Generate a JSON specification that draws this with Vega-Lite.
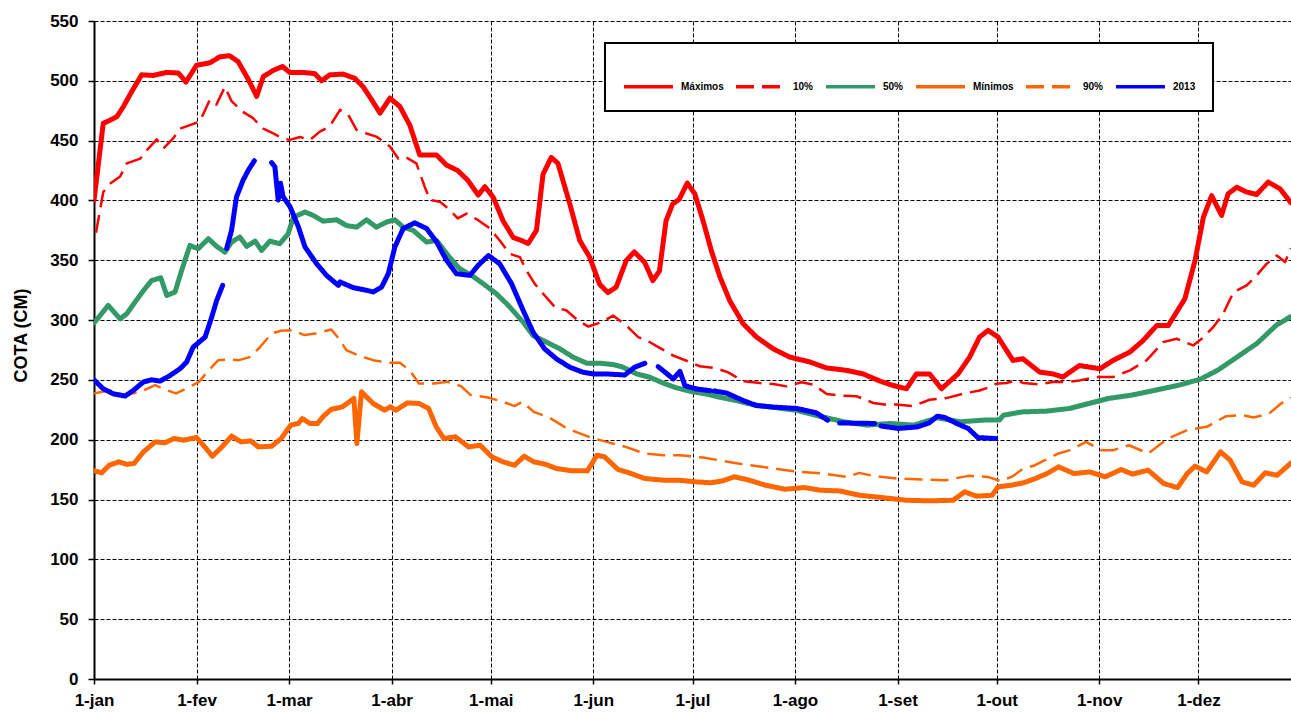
{
"$schema": "https://vega.github.io/schema/vega-lite/v6.json",
"width": 1197, "height": 658,
"autosize": {"type": "none"},
"padding": {"left": 94, "top": 21, "right": 0, "bottom": 33},
"background": "white",
"config": {
 "view": {"stroke": null},
 "axis": {"domainColor": "black", "domainWidth": 2, "tickColor": "black", "tickWidth": 1.5, "labelFont": "Liberation Sans", "labelFontWeight": "bold", "labelFontSize": 17, "labelColor": "black", "grid": true, "gridColor": "black", "gridDash": [4, 2], "gridWidth": 1, "gridOpacity": 1, "titleFont": "Liberation Sans", "titleColor": "black"}
},
"datasets": {
"rows": [
{"s":"Máximos","g":0,"d":0,"v":400},{"s":"Máximos","g":0,"d":2.8,"v":464.5},{"s":"Máximos","g":0,"d":4.8,"v":467},{"s":"Máximos","g":0,"d":6.9,"v":470},{"s":"Máximos","g":0,"d":8.9,"v":478.5},{"s":"Máximos","g":0,"d":11.4,"v":491},{"s":"Máximos","g":0,"d":12.9,"v":498},{"s":"Máximos","g":0,"d":14.4,"v":505},{"s":"Máximos","g":0,"d":17.9,"v":504.5},{"s":"Máximos","g":0,"d":22,"v":507},{"s":"Máximos","g":0,"d":25.5,"v":506.5},{"s":"Máximos","g":0,"d":27.8,"v":499},{"s":"Máximos","g":0,"d":31,"v":513},{"s":"Máximos","g":0,"d":35,"v":515},{"s":"Máximos","g":0,"d":38,"v":520},{"s":"Máximos","g":0,"d":41,"v":521},{"s":"Máximos","g":0,"d":43.6,"v":516},{"s":"Máximos","g":0,"d":46.7,"v":501},{"s":"Máximos","g":0,"d":49.2,"v":487},{"s":"Máximos","g":0,"d":51.2,"v":503.6},{"s":"Máximos","g":0,"d":54.2,"v":508.7},{"s":"Máximos","g":0,"d":57,"v":512},{"s":"Máximos","g":0,"d":59.2,"v":507},{"s":"Máximos","g":0,"d":63.3,"v":507},{"s":"Máximos","g":0,"d":66.8,"v":506},{"s":"Máximos","g":0,"d":68.8,"v":500},{"s":"Máximos","g":0,"d":71.3,"v":505},{"s":"Máximos","g":0,"d":75.4,"v":505.6},{"s":"Máximos","g":0,"d":78.9,"v":502},{"s":"Máximos","g":0,"d":81.4,"v":495},{"s":"Máximos","g":0,"d":84,"v":484},{"s":"Máximos","g":0,"d":86.5,"v":473},{"s":"Máximos","g":0,"d":89.5,"v":485.5},{"s":"Máximos","g":0,"d":92.5,"v":478.5},{"s":"Máximos","g":0,"d":95.5,"v":463},{"s":"Máximos","g":0,"d":98.5,"v":438},{"s":"Máximos","g":0,"d":103.6,"v":438},{"s":"Máximos","g":0,"d":106.6,"v":429.6},{"s":"Máximos","g":0,"d":110,"v":425},{"s":"Máximos","g":0,"d":113,"v":417},{"s":"Máximos","g":0,"d":116.2,"v":404.5},{"s":"Máximos","g":0,"d":118.2,"v":411.5},{"s":"Máximos","g":0,"d":120.7,"v":402.8},{"s":"Máximos","g":0,"d":123.7,"v":383},{"s":"Máximos","g":0,"d":126.8,"v":369},{"s":"Máximos","g":0,"d":129.3,"v":366.5},{"s":"Máximos","g":0,"d":131.3,"v":364},{"s":"Máximos","g":0,"d":133.8,"v":375},{"s":"Máximos","g":0,"d":135.8,"v":422},{"s":"Máximos","g":0,"d":138.3,"v":436},{"s":"Máximos","g":0,"d":140.3,"v":431},{"s":"Máximos","g":0,"d":143.9,"v":397},{"s":"Máximos","g":0,"d":146.9,"v":366.5},{"s":"Máximos","g":0,"d":149.9,"v":352.6},{"s":"Máximos","g":0,"d":152.9,"v":330},{"s":"Máximos","g":0,"d":155.4,"v":323},{"s":"Máximos","g":0,"d":157.9,"v":327.5},{"s":"Máximos","g":0,"d":161,"v":350},{"s":"Máximos","g":0,"d":163.4,"v":357},{"s":"Máximos","g":0,"d":166.5,"v":348.4},{"s":"Máximos","g":0,"d":169,"v":333},{"s":"Máximos","g":0,"d":171,"v":341},{"s":"Máximos","g":0,"d":173,"v":383},{"s":"Máximos","g":0,"d":175,"v":397},{"s":"Máximos","g":0,"d":177,"v":401},{"s":"Máximos","g":0,"d":179.4,"v":414.5},{"s":"Máximos","g":0,"d":181.7,"v":405.6},{"s":"Máximos","g":0,"d":184.2,"v":383},{"s":"Máximos","g":0,"d":186.7,"v":358},{"s":"Máximos","g":0,"d":189.3,"v":336},{"s":"Máximos","g":0,"d":192.3,"v":316},{"s":"Máximos","g":0,"d":196.3,"v":297},{"s":"Máximos","g":0,"d":200.4,"v":285.7},{"s":"Máximos","g":0,"d":205.4,"v":276},{"s":"Máximos","g":0,"d":210.4,"v":269},{"s":"Máximos","g":0,"d":216.5,"v":265},{"s":"Máximos","g":0,"d":221.5,"v":260},{"s":"Máximos","g":0,"d":227.5,"v":258},{"s":"Máximos","g":0,"d":232.6,"v":255},{"s":"Máximos","g":0,"d":237.7,"v":249},{"s":"Máximos","g":0,"d":241.6,"v":245.4},{"s":"Máximos","g":0,"d":245.7,"v":242.6},{"s":"Máximos","g":0,"d":248.7,"v":255},{"s":"Máximos","g":0,"d":252.7,"v":255},{"s":"Máximos","g":0,"d":256.3,"v":242.6},{"s":"Máximos","g":0,"d":261.3,"v":255},{"s":"Máximos","g":0,"d":264.8,"v":269},{"s":"Máximos","g":0,"d":267.8,"v":285.8},{"s":"Máximos","g":0,"d":270.4,"v":291.4},{"s":"Máximos","g":0,"d":273.4,"v":285.8},{"s":"Máximos","g":0,"d":277.9,"v":266.3},{"s":"Máximos","g":0,"d":280.9,"v":267.7},{"s":"Máximos","g":0,"d":286,"v":256.5},{"s":"Máximos","g":0,"d":290,"v":255},{"s":"Máximos","g":0,"d":293,"v":252.4},{"s":"Máximos","g":0,"d":298,"v":262},{"s":"Máximos","g":0,"d":304.2,"v":259.3},{"s":"Máximos","g":0,"d":308.2,"v":266.3},{"s":"Máximos","g":0,"d":313.3,"v":273.3},{"s":"Máximos","g":0,"d":317.3,"v":283},{"s":"Máximos","g":0,"d":321.4,"v":295.5},{"s":"Máximos","g":0,"d":324.9,"v":295.5},{"s":"Máximos","g":0,"d":329.9,"v":317.8},{"s":"Máximos","g":0,"d":333,"v":350},{"s":"Máximos","g":0,"d":335.5,"v":386},{"s":"Máximos","g":0,"d":338,"v":404},{"s":"Máximos","g":0,"d":341,"v":387.5},{"s":"Máximos","g":0,"d":343,"v":405.6},{"s":"Máximos","g":0,"d":345.6,"v":411},{"s":"Máximos","g":0,"d":348.6,"v":407},{"s":"Máximos","g":0,"d":351.6,"v":405},{"s":"Máximos","g":0,"d":355.1,"v":415.3},{"s":"Máximos","g":0,"d":358.7,"v":409.7},{"s":"Máximos","g":0,"d":362,"v":398},
{"s":"10%","g":0,"d":0.6,"v":373},{"s":"10%","g":0,"d":2.8,"v":407},{"s":"10%","g":0,"d":4.8,"v":414},{"s":"10%","g":0,"d":7.9,"v":420},{"s":"10%","g":0,"d":9.9,"v":431},{"s":"10%","g":0,"d":14,"v":435},{"s":"10%","g":0,"d":16,"v":442},{"s":"10%","g":0,"d":19,"v":451},{"s":"10%","g":0,"d":21,"v":443.6},{"s":"10%","g":0,"d":24,"v":452},{"s":"10%","g":0,"d":26,"v":460},{"s":"10%","g":0,"d":29,"v":463},{"s":"10%","g":0,"d":32,"v":466},{"s":"10%","g":0,"d":35,"v":484},{"s":"10%","g":0,"d":37,"v":480},{"s":"10%","g":0,"d":39.6,"v":495},{"s":"10%","g":0,"d":41.6,"v":483},{"s":"10%","g":0,"d":45,"v":474},{"s":"10%","g":0,"d":48,"v":469},{"s":"10%","g":0,"d":51.2,"v":460},{"s":"10%","g":0,"d":54.2,"v":456},{"s":"10%","g":0,"d":57,"v":452},{"s":"10%","g":0,"d":59.2,"v":450.6},{"s":"10%","g":0,"d":62.3,"v":453},{"s":"10%","g":0,"d":65.3,"v":450.6},{"s":"10%","g":0,"d":68.3,"v":457.5},{"s":"10%","g":0,"d":71.3,"v":462},{"s":"10%","g":0,"d":74.4,"v":475.7},{"s":"10%","g":0,"d":76.9,"v":471.5},{"s":"10%","g":0,"d":79.4,"v":459},{"s":"10%","g":0,"d":82.4,"v":456},{"s":"10%","g":0,"d":85.4,"v":453.4},{"s":"10%","g":0,"d":89.5,"v":445},{"s":"10%","g":0,"d":92,"v":435},{"s":"10%","g":0,"d":94,"v":436.6},{"s":"10%","g":0,"d":97.5,"v":431},{"s":"10%","g":0,"d":100,"v":411.5},{"s":"10%","g":0,"d":101.6,"v":400.5},{"s":"10%","g":0,"d":104.6,"v":399},{"s":"10%","g":0,"d":107.6,"v":392},{"s":"10%","g":0,"d":110,"v":385},{"s":"10%","g":0,"d":112.7,"v":389},{"s":"10%","g":0,"d":116.2,"v":383.5},{"s":"10%","g":0,"d":119.7,"v":376.6},{"s":"10%","g":0,"d":122.7,"v":366.5},{"s":"10%","g":0,"d":125.7,"v":355.4},{"s":"10%","g":0,"d":128.8,"v":352.6},{"s":"10%","g":0,"d":130.8,"v":341.4},{"s":"10%","g":0,"d":133.3,"v":330.3},{"s":"10%","g":0,"d":136.3,"v":320.5},{"s":"10%","g":0,"d":139.4,"v":310.8},{"s":"10%","g":0,"d":142.9,"v":308},{"s":"10%","g":0,"d":146.4,"v":299.6},{"s":"10%","g":0,"d":149.5,"v":294.6},{"s":"10%","g":0,"d":153.5,"v":298.2},{"s":"10%","g":0,"d":157,"v":303.8},{"s":"10%","g":0,"d":161,"v":295.4},{"s":"10%","g":0,"d":164.6,"v":285.7},{"s":"10%","g":0,"d":168.1,"v":281.5},{"s":"10%","g":0,"d":171.6,"v":276},{"s":"10%","g":0,"d":175.2,"v":270.3},{"s":"10%","g":0,"d":179.2,"v":266},{"s":"10%","g":0,"d":183.2,"v":261.4},{"s":"10%","g":0,"d":187.8,"v":260},{"s":"10%","g":0,"d":191.8,"v":256.3},{"s":"10%","g":0,"d":196.4,"v":248.8},{"s":"10%","g":0,"d":201.4,"v":247.4},{"s":"10%","g":0,"d":205.4,"v":246.6},{"s":"10%","g":0,"d":209.5,"v":244.6},{"s":"10%","g":0,"d":214,"v":248},{"s":"10%","g":0,"d":217.6,"v":246},{"s":"10%","g":0,"d":221.6,"v":238.3},{"s":"10%","g":0,"d":225.7,"v":236.9},{"s":"10%","g":0,"d":230.7,"v":236.3},{"s":"10%","g":0,"d":235.7,"v":230.7},{"s":"10%","g":0,"d":240.3,"v":229},{"s":"10%","g":0,"d":242.6,"v":229.5},{"s":"10%","g":0,"d":247.7,"v":228.1},{"s":"10%","g":0,"d":252.7,"v":233.4},{"s":"10%","g":0,"d":257.8,"v":234.8},{"s":"10%","g":0,"d":262.8,"v":238.4},{"s":"10%","g":0,"d":267.8,"v":241.2},{"s":"10%","g":0,"d":270.9,"v":244},{"s":"10%","g":0,"d":272.9,"v":246.8},{"s":"10%","g":0,"d":275.9,"v":247.4},{"s":"10%","g":0,"d":279,"v":249.6},{"s":"10%","g":0,"d":281,"v":247.4},{"s":"10%","g":0,"d":286,"v":246.3},{"s":"10%","g":0,"d":290,"v":248.2},{"s":"10%","g":0,"d":294.1,"v":248.2},{"s":"10%","g":0,"d":298.1,"v":249.6},{"s":"10%","g":0,"d":303.2,"v":252.4},{"s":"10%","g":0,"d":308.2,"v":252.4},{"s":"10%","g":0,"d":313.3,"v":258},{"s":"10%","g":0,"d":318.3,"v":266.3},{"s":"10%","g":0,"d":323.3,"v":281.6},{"s":"10%","g":0,"d":327.4,"v":284.4},{"s":"10%","g":0,"d":332.4,"v":278.8},{"s":"10%","g":0,"d":335,"v":284.4},{"s":"10%","g":0,"d":338.5,"v":294.2},{"s":"10%","g":0,"d":341.5,"v":305.3},{"s":"10%","g":0,"d":344.6,"v":323.4},{"s":"10%","g":0,"d":348.6,"v":329},{"s":"10%","g":0,"d":351.6,"v":337.3},{"s":"10%","g":0,"d":354.6,"v":347},{"s":"10%","g":0,"d":357.7,"v":354},{"s":"10%","g":0,"d":360.2,"v":348.5},{"s":"10%","g":0,"d":362,"v":360},
{"s":"50%","g":0,"d":0,"v":297.5},{"s":"50%","g":0,"d":4.3,"v":312.3},{"s":"50%","g":0,"d":7.9,"v":301},{"s":"50%","g":0,"d":9.9,"v":305.3},{"s":"50%","g":0,"d":12.4,"v":315},{"s":"50%","g":0,"d":15,"v":324.8},{"s":"50%","g":0,"d":17.4,"v":333},{"s":"50%","g":0,"d":20.2,"v":335.4},{"s":"50%","g":0,"d":22,"v":320.6},{"s":"50%","g":0,"d":24.5,"v":323.4},{"s":"50%","g":0,"d":26.5,"v":341.5},{"s":"50%","g":0,"d":29,"v":362.4},{"s":"50%","g":0,"d":31.5,"v":359.6},{"s":"50%","g":0,"d":34.6,"v":368},{"s":"50%","g":0,"d":37.1,"v":361.6},{"s":"50%","g":0,"d":39.6,"v":356.8},{"s":"50%","g":0,"d":41.6,"v":365.2},{"s":"50%","g":0,"d":44.1,"v":369.4},{"s":"50%","g":0,"d":46.2,"v":361.6},{"s":"50%","g":0,"d":48.7,"v":366},{"s":"50%","g":0,"d":50.7,"v":358.2},{"s":"50%","g":0,"d":53.2,"v":366},{"s":"50%","g":0,"d":56.2,"v":363.8},{"s":"50%","g":0,"d":58.7,"v":372.1},{"s":"50%","g":0,"d":60.3,"v":386},{"s":"50%","g":0,"d":63.8,"v":390.3},{"s":"50%","g":0,"d":66.3,"v":387.5},{"s":"50%","g":0,"d":69.3,"v":382.7},{"s":"50%","g":0,"d":73.4,"v":383.8},{"s":"50%","g":0,"d":76.4,"v":379},{"s":"50%","g":0,"d":79.4,"v":377.7},{"s":"50%","g":0,"d":82.4,"v":383.8},{"s":"50%","g":0,"d":85.4,"v":377.7},{"s":"50%","g":0,"d":88.5,"v":381.9},{"s":"50%","g":0,"d":91,"v":383.8},{"s":"50%","g":0,"d":93.5,"v":377.7},{"s":"50%","g":0,"d":96.5,"v":375},{"s":"50%","g":0,"d":100.6,"v":365.2},{"s":"50%","g":0,"d":103.6,"v":366.6},{"s":"50%","g":0,"d":107.1,"v":354},{"s":"50%","g":0,"d":110.6,"v":342.9},{"s":"50%","g":0,"d":114.2,"v":337.3},{"s":"50%","g":0,"d":117.7,"v":330.4},{"s":"50%","g":0,"d":121.7,"v":322},{"s":"50%","g":0,"d":125.3,"v":312.3},{"s":"50%","g":0,"d":129.8,"v":298.2},{"s":"50%","g":0,"d":132.8,"v":287},{"s":"50%","g":0,"d":136.9,"v":281.5},{"s":"50%","g":0,"d":140.9,"v":276},{"s":"50%","g":0,"d":144.9,"v":269},{"s":"50%","g":0,"d":149,"v":264},{"s":"50%","g":0,"d":153,"v":264},{"s":"50%","g":0,"d":157,"v":262.8},{"s":"50%","g":0,"d":160,"v":260.6},{"s":"50%","g":0,"d":164.1,"v":255},{"s":"50%","g":0,"d":168.1,"v":252.2},{"s":"50%","g":0,"d":172.1,"v":247.4},{"s":"50%","g":0,"d":176.2,"v":243.3},{"s":"50%","g":0,"d":180.2,"v":240.5},{"s":"50%","g":0,"d":185.2,"v":238.2},{"s":"50%","g":0,"d":189.3,"v":235.5},{"s":"50%","g":0,"d":194.3,"v":232.7},{"s":"50%","g":0,"d":199.3,"v":229.3},{"s":"50%","g":0,"d":205.4,"v":227.1},{"s":"50%","g":0,"d":212.5,"v":224.5},{"s":"50%","g":0,"d":219.6,"v":219.5},{"s":"50%","g":0,"d":226.7,"v":215},{"s":"50%","g":0,"d":233.7,"v":212.2},{"s":"50%","g":0,"d":240.8,"v":213.6},{"s":"50%","g":0,"d":247.9,"v":212.2},{"s":"50%","g":0,"d":255,"v":218.3},{"s":"50%","g":0,"d":262,"v":215},{"s":"50%","g":0,"d":269.1,"v":216.4},{"s":"50%","g":0,"d":273.8,"v":216.4},{"s":"50%","g":0,"d":275,"v":220.5},{"s":"50%","g":0,"d":280.9,"v":223.3},{"s":"50%","g":0,"d":288,"v":223.9},{"s":"50%","g":0,"d":295,"v":226.1},{"s":"50%","g":0,"d":300.9,"v":230.3},{"s":"50%","g":0,"d":306.8,"v":234.5},{"s":"50%","g":0,"d":313.9,"v":237.3},{"s":"50%","g":0,"d":321,"v":241.4},{"s":"50%","g":0,"d":328.1,"v":245.6},{"s":"50%","g":0,"d":334.6,"v":250.6},{"s":"50%","g":0,"d":339.9,"v":258.2},{"s":"50%","g":0,"d":345.8,"v":269.3},{"s":"50%","g":0,"d":351.7,"v":280.5},{"s":"50%","g":0,"d":357.6,"v":295.8},{"s":"50%","g":0,"d":362,"v":303},
{"s":"Mínimos","g":0,"d":0,"v":174},{"s":"Mínimos","g":0,"d":2.3,"v":172.3},{"s":"Mínimos","g":0,"d":4.6,"v":178.7},{"s":"Mínimos","g":0,"d":7.5,"v":181.5},{"s":"Mínimos","g":0,"d":9.8,"v":179.5},{"s":"Mínimos","g":0,"d":12.1,"v":180.1},{"s":"Mínimos","g":0,"d":15,"v":190},{"s":"Mínimos","g":0,"d":18.5,"v":198.2},{"s":"Mínimos","g":0,"d":21.4,"v":197.4},{"s":"Mínimos","g":0,"d":24.2,"v":201},{"s":"Mínimos","g":0,"d":27.1,"v":199.6},{"s":"Mínimos","g":0,"d":31,"v":201.8},{"s":"Mínimos","g":0,"d":33.5,"v":194},{"s":"Mínimos","g":0,"d":35.8,"v":186.2},{"s":"Mínimos","g":0,"d":38.7,"v":194},{"s":"Mínimos","g":0,"d":41.6,"v":203},{"s":"Mínimos","g":0,"d":44.5,"v":198.2},{"s":"Mínimos","g":0,"d":47.4,"v":199},{"s":"Mínimos","g":0,"d":49.7,"v":194},{"s":"Mínimos","g":0,"d":53.7,"v":194.6},{"s":"Mínimos","g":0,"d":56.6,"v":201},{"s":"Mínimos","g":0,"d":59.5,"v":212.2},{"s":"Mínimos","g":0,"d":61.8,"v":213.6},{"s":"Mínimos","g":0,"d":63,"v":217.7},{"s":"Mínimos","g":0,"d":65.3,"v":213.6},{"s":"Mínimos","g":0,"d":67.6,"v":213.6},{"s":"Mínimos","g":0,"d":69.4,"v":219.7},{"s":"Mínimos","g":0,"d":71.7,"v":225.3},{"s":"Mínimos","g":0,"d":75.1,"v":227.5},{"s":"Mínimos","g":0,"d":78.6,"v":234.5},{"s":"Mínimos","g":0,"d":79.5,"v":196.8},{"s":"Mínimos","g":0,"d":80.9,"v":240},{"s":"Mínimos","g":0,"d":84.4,"v":230.3},{"s":"Mínimos","g":0,"d":87.9,"v":224.7},{"s":"Mínimos","g":0,"d":89.6,"v":227.5},{"s":"Mínimos","g":0,"d":91.3,"v":224.7},{"s":"Mínimos","g":0,"d":94.8,"v":230.8},{"s":"Mínimos","g":0,"d":98.3,"v":230.3},{"s":"Mínimos","g":0,"d":101.2,"v":226.1},{"s":"Mínimos","g":0,"d":103.5,"v":210.8},{"s":"Mínimos","g":0,"d":105.8,"v":201},{"s":"Mínimos","g":0,"d":109.3,"v":202.4},{"s":"Mínimos","g":0,"d":113.3,"v":194},{"s":"Mínimos","g":0,"d":116.8,"v":195.4},{"s":"Mínimos","g":0,"d":120.3,"v":185.7},{"s":"Mínimos","g":0,"d":123.7,"v":181.5},{"s":"Mínimos","g":0,"d":127.2,"v":178.7},{"s":"Mínimos","g":0,"d":130.1,"v":186.2},{"s":"Mínimos","g":0,"d":133,"v":181.5},{"s":"Mínimos","g":0,"d":136.5,"v":179.5},{"s":"Mínimos","g":0,"d":139.9,"v":175.9},{"s":"Mínimos","g":0,"d":144.6,"v":174},{"s":"Mínimos","g":0,"d":149.2,"v":174},{"s":"Mínimos","g":0,"d":152.1,"v":187},{"s":"Mínimos","g":0,"d":154.4,"v":185.7},{"s":"Mínimos","g":0,"d":158.5,"v":175.1},{"s":"Mínimos","g":0,"d":161.9,"v":172.3},{"s":"Mínimos","g":0,"d":166.5,"v":167.6},{"s":"Mínimos","g":0,"d":172.3,"v":166.2},{"s":"Mínimos","g":0,"d":177.1,"v":166.1},{"s":"Mínimos","g":0,"d":181.9,"v":164.8},{"s":"Mínimos","g":0,"d":186.5,"v":164},{"s":"Mínimos","g":0,"d":190.1,"v":165.6},{"s":"Mínimos","g":0,"d":193.6,"v":169},{"s":"Mínimos","g":0,"d":198.3,"v":166.1},{"s":"Mínimos","g":0,"d":203,"v":162},{"s":"Mínimos","g":0,"d":208.9,"v":158.6},{"s":"Mínimos","g":0,"d":214.8,"v":160},{"s":"Mínimos","g":0,"d":219.6,"v":157.8},{"s":"Mínimos","g":0,"d":225.5,"v":157.2},{"s":"Mínimos","g":0,"d":231.4,"v":153.6},{"s":"Mínimos","g":0,"d":238.5,"v":151.6},{"s":"Mínimos","g":0,"d":245.6,"v":149.4},{"s":"Mínimos","g":0,"d":252.7,"v":148.9},{"s":"Mínimos","g":0,"d":259.8,"v":149.4},{"s":"Mínimos","g":0,"d":263.3,"v":156.4},{"s":"Mínimos","g":0,"d":266.9,"v":152.8},{"s":"Mínimos","g":0,"d":271.6,"v":153.6},{"s":"Mínimos","g":0,"d":273.4,"v":160.6},{"s":"Mínimos","g":0,"d":277.5,"v":162},{"s":"Mínimos","g":0,"d":281.1,"v":164},{"s":"Mínimos","g":0,"d":284.6,"v":167.5},{"s":"Mínimos","g":0,"d":288.2,"v":171.7},{"s":"Mínimos","g":0,"d":291.7,"v":177.3},{"s":"Mínimos","g":0,"d":296.4,"v":171.7},{"s":"Mínimos","g":0,"d":301.1,"v":173.1},{"s":"Mínimos","g":0,"d":305.8,"v":169},{"s":"Mínimos","g":0,"d":310.6,"v":175.1},{"s":"Mínimos","g":0,"d":314.1,"v":171.2},{"s":"Mínimos","g":0,"d":318.8,"v":174.5},{"s":"Mínimos","g":0,"d":323.5,"v":163.4},{"s":"Mínimos","g":0,"d":327.7,"v":160},{"s":"Mínimos","g":0,"d":330.6,"v":171.7},{"s":"Mínimos","g":0,"d":333,"v":177.9},{"s":"Mínimos","g":0,"d":336.5,"v":173.1},{"s":"Mínimos","g":0,"d":340.7,"v":189.9},{"s":"Mínimos","g":0,"d":343.6,"v":182.9},{"s":"Mínimos","g":0,"d":347.2,"v":164.8},{"s":"Mínimos","g":0,"d":350.7,"v":162},{"s":"Mínimos","g":0,"d":354.2,"v":172.3},{"s":"Mínimos","g":0,"d":357.8,"v":170.3},{"s":"Mínimos","g":0,"d":362,"v":180.6},
{"s":"90%","g":0,"d":0,"v":238.7},{"s":"90%","g":0,"d":4.6,"v":241.4},{"s":"90%","g":0,"d":9.2,"v":237.3},{"s":"90%","g":0,"d":13.9,"v":240},{"s":"90%","g":0,"d":18.5,"v":245.6},{"s":"90%","g":0,"d":22,"v":241.4},{"s":"90%","g":0,"d":24.8,"v":238.7},{"s":"90%","g":0,"d":28.9,"v":244.2},{"s":"90%","g":0,"d":31.8,"v":248.4},{"s":"90%","g":0,"d":34.7,"v":258.2},{"s":"90%","g":0,"d":37.6,"v":266.5},{"s":"90%","g":0,"d":40.4,"v":267.1},{"s":"90%","g":0,"d":43.9,"v":266.5},{"s":"90%","g":0,"d":47.4,"v":269.3},{"s":"90%","g":0,"d":50.3,"v":277.7},{"s":"90%","g":0,"d":53.7,"v":288.8},{"s":"90%","g":0,"d":56.6,"v":291.1},{"s":"90%","g":0,"d":60.1,"v":291.6},{"s":"90%","g":0,"d":63.6,"v":287.5},{"s":"90%","g":0,"d":67,"v":288.8},{"s":"90%","g":0,"d":71.7,"v":292.2},{"s":"90%","g":0,"d":74,"v":284.7},{"s":"90%","g":0,"d":76.3,"v":274.9},{"s":"90%","g":0,"d":79.8,"v":270.7},{"s":"90%","g":0,"d":84.4,"v":266.5},{"s":"90%","g":0,"d":89,"v":264.3},{"s":"90%","g":0,"d":92.5,"v":264.3},{"s":"90%","g":0,"d":95.4,"v":258.2},{"s":"90%","g":0,"d":98.3,"v":247},{"s":"90%","g":0,"d":102.9,"v":247},{"s":"90%","g":0,"d":107,"v":248.4},{"s":"90%","g":0,"d":111,"v":244.8},{"s":"90%","g":0,"d":113.9,"v":237.3},{"s":"90%","g":0,"d":119.1,"v":235.3},{"s":"90%","g":0,"d":123.7,"v":231.7},{"s":"90%","g":0,"d":127.2,"v":228.1},{"s":"90%","g":0,"d":129.5,"v":231.7},{"s":"90%","g":0,"d":133,"v":223.3},{"s":"90%","g":0,"d":137.6,"v":218.6},{"s":"90%","g":0,"d":142.3,"v":210.8},{"s":"90%","g":0,"d":145.7,"v":206.6},{"s":"90%","g":0,"d":150.3,"v":201.8},{"s":"90%","g":0,"d":155,"v":198.2},{"s":"90%","g":0,"d":160.8,"v":194},{"s":"90%","g":0,"d":166.5,"v":188.5},{"s":"90%","g":0,"d":172.3,"v":187.1},{"s":"90%","g":0,"d":177.1,"v":187.1},{"s":"90%","g":0,"d":184.2,"v":185.1},{"s":"90%","g":0,"d":188.9,"v":182.9},{"s":"90%","g":0,"d":194.8,"v":180.1},{"s":"90%","g":0,"d":200.7,"v":177.9},{"s":"90%","g":0,"d":207.7,"v":175.1},{"s":"90%","g":0,"d":213.6,"v":173.1},{"s":"90%","g":0,"d":220.7,"v":171.7},{"s":"90%","g":0,"d":227.8,"v":168.9},{"s":"90%","g":0,"d":231.4,"v":172.3},{"s":"90%","g":0,"d":236.1,"v":169.5},{"s":"90%","g":0,"d":243.2,"v":167.5},{"s":"90%","g":0,"d":250.2,"v":166.7},{"s":"90%","g":0,"d":257.4,"v":166.1},{"s":"90%","g":0,"d":264.4,"v":169.8},{"s":"90%","g":0,"d":270.3,"v":168.9},{"s":"90%","g":0,"d":273.9,"v":165.6},{"s":"90%","g":0,"d":277.5,"v":168.9},{"s":"90%","g":0,"d":281.1,"v":175.9},{"s":"90%","g":0,"d":284.6,"v":178.7},{"s":"90%","g":0,"d":287.6,"v":182.9},{"s":"90%","g":0,"d":291.7,"v":188.5},{"s":"90%","g":0,"d":295.2,"v":191.3},{"s":"90%","g":0,"d":300,"v":198.2},{"s":"90%","g":0,"d":304.7,"v":191.3},{"s":"90%","g":0,"d":308.3,"v":191.3},{"s":"90%","g":0,"d":313,"v":195.4},{"s":"90%","g":0,"d":318.8,"v":188.5},{"s":"90%","g":0,"d":324.8,"v":201},{"s":"90%","g":0,"d":330.6,"v":208},{"s":"90%","g":0,"d":336.5,"v":210.8},{"s":"90%","g":0,"d":342.4,"v":219.7},{"s":"90%","g":0,"d":347.2,"v":220.5},{"s":"90%","g":0,"d":350.7,"v":218.6},{"s":"90%","g":0,"d":355.4,"v":221.9},{"s":"90%","g":0,"d":359,"v":230.3},{"s":"90%","g":0,"d":362,"v":235.3},
{"s":"2013","g":1,"d":0,"v":250},{"s":"2013","g":1,"d":2.8,"v":242.6},{"s":"2013","g":1,"d":5.8,"v":238.4},{"s":"2013","g":1,"d":9.4,"v":236.5},{"s":"2013","g":1,"d":11.9,"v":241.2},{"s":"2013","g":1,"d":14.9,"v":248.2},{"s":"2013","g":1,"d":17.4,"v":250.1},{"s":"2013","g":1,"d":20,"v":249},{"s":"2013","g":1,"d":23,"v":253.7},{"s":"2013","g":1,"d":26,"v":259.3},{"s":"2013","g":1,"d":28,"v":264.9},{"s":"2013","g":1,"d":30,"v":277.4},{"s":"2013","g":1,"d":33.6,"v":285.8},{"s":"2013","g":1,"d":35.6,"v":302.5},{"s":"2013","g":1,"d":37.1,"v":316.4},{"s":"2013","g":1,"d":38.9,"v":329},
{"s":"2013","g":2,"d":40.1,"v":359.8},{"s":"2013","g":2,"d":41.6,"v":375},{"s":"2013","g":2,"d":43.1,"v":403},{"s":"2013","g":2,"d":45.1,"v":417},{"s":"2013","g":2,"d":46.7,"v":425.4},{"s":"2013","g":2,"d":48.5,"v":433.2},
{"s":"2013","g":3,"d":53.7,"v":431.6},{"s":"2013","g":3,"d":54.7,"v":428.2},{"s":"2013","g":3,"d":55.7,"v":400.3},{"s":"2013","g":3,"d":56.4,"v":414.3},{"s":"2013","g":3,"d":57.2,"v":403.1},{"s":"2013","g":3,"d":59.3,"v":394.7},{"s":"2013","g":3,"d":61.8,"v":378},{"s":"2013","g":3,"d":63.8,"v":361.2},{"s":"2013","g":3,"d":67.3,"v":347.2},{"s":"2013","g":3,"d":70.3,"v":337.4},{"s":"2013","g":3,"d":73.9,"v":329},{"s":"2013","g":3,"d":74.4,"v":331.9},{"s":"2013","g":3,"d":78.4,"v":327.1},{"s":"2013","g":3,"d":82.4,"v":324.9},{"s":"2013","g":3,"d":84.4,"v":323.5},{"s":"2013","g":3,"d":87,"v":327.7},{"s":"2013","g":3,"d":89,"v":338.8},{"s":"2013","g":3,"d":91,"v":361.2},{"s":"2013","g":3,"d":93.5,"v":376.5},{"s":"2013","g":3,"d":97,"v":381.3},{"s":"2013","g":3,"d":100.6,"v":376.5},{"s":"2013","g":3,"d":103.6,"v":365.3},{"s":"2013","g":3,"d":106.6,"v":350},{"s":"2013","g":3,"d":109.6,"v":338.8},{"s":"2013","g":3,"d":113.7,"v":337.4},{"s":"2013","g":3,"d":116.2,"v":345.8},{"s":"2013","g":3,"d":119.3,"v":354},{"s":"2013","g":3,"d":122.7,"v":347},{"s":"2013","g":3,"d":126.3,"v":330.3},{"s":"2013","g":3,"d":129.8,"v":308},{"s":"2013","g":3,"d":132.8,"v":289.8},{"s":"2013","g":3,"d":136.3,"v":275.9},{"s":"2013","g":3,"d":139.9,"v":267.5},{"s":"2013","g":3,"d":143.9,"v":260.6},{"s":"2013","g":3,"d":147.9,"v":256.4},{"s":"2013","g":3,"d":151,"v":255},{"s":"2013","g":3,"d":155,"v":255},{"s":"2013","g":3,"d":160.5,"v":254.1},{"s":"2013","g":3,"d":163.5,"v":260.6},{"s":"2013","g":3,"d":166.6,"v":263.9},
{"s":"2013","g":4,"d":170.6,"v":261.1},{"s":"2013","g":4,"d":175.2,"v":250.8},{"s":"2013","g":4,"d":177.2,"v":257.2},{"s":"2013","g":4,"d":178.7,"v":245.2},{"s":"2013","g":4,"d":182.2,"v":242.4},{"s":"2013","g":4,"d":186.3,"v":241},
{"s":"2013","g":5,"d":187.5,"v":240.8},{"s":"2013","g":5,"d":191.3,"v":239},{"s":"2013","g":5,"d":196.4,"v":232.7},{"s":"2013","g":5,"d":200.4,"v":228.5},{"s":"2013","g":5,"d":205.4,"v":227.3},{"s":"2013","g":5,"d":212.5,"v":226.1},{"s":"2013","g":5,"d":218.4,"v":222.5},{"s":"2013","g":5,"d":221.9,"v":216.3},
{"s":"2013","g":6,"d":225.5,"v":214},{"s":"2013","g":6,"d":236.1,"v":213.6},
{"s":"2013","g":7,"d":238,"v":211.5},{"s":"2013","g":7,"d":243.2,"v":209.4},{"s":"2013","g":7,"d":249.1,"v":210.8},{"s":"2013","g":7,"d":252.6,"v":214.1},{"s":"2013","g":7,"d":255,"v":219.7},{"s":"2013","g":7,"d":257.3,"v":218.6},{"s":"2013","g":7,"d":260.9,"v":213.6},{"s":"2013","g":7,"d":264.4,"v":209.4},{"s":"2013","g":7,"d":267.3,"v":201.8},{"s":"2013","g":7,"d":272.7,"v":201}
]
},
"data": {"name": "rows"},
"encoding": {
 "x": {"field": "d", "type": "quantitative", "scale": {"domain": [0, 362], "nice": false, "zero": false},
  "axis": {"title": null, "values": [0,31,59,90,120,151,181,212,243,273,304,334], "labelExpr": "['1-jan','1-fev','1-mar','1-abr','1-mai','1-jun','1-jul','1-ago','1-set','1-out','1-nov','1-dez'][indexof([0,31,59,90,120,151,181,212,243,273,304,334], datum.value)]", "tickSize": 5, "labelPadding": 8, "labelFlush": false, "labelOverlap": false}},
 "y": {"field": "v", "type": "quantitative", "scale": {"domain": [0, 550], "nice": false},
  "axis": {"title": "COTA (CM)", "values": [0,50,100,150,200,250,300,350,400,450,500,550], "tickSize": 6, "labelPadding": 10, "titleFontSize": 18, "titleFontWeight": "bold", "titleX": -73, "titleY": 314, "titleAngle": 270, "titleAlign": "center", "titleBaseline": "middle"}},
 "color": {"field": "s", "type": "nominal",
  "scale": {"domain": ["Máximos","10%","50%","Mínimos","90%","2013"], "range": ["#FF0000","#FF0000","#339966","#FF6600","#FF6600","#0000FF"]},
  "legend": {"title": null, "orient": "none", "legendX": 511, "legendY": 22, "direction": "horizontal", "columns": 6, "symbolType": "stroke", "symbolSize": 2401, "symbolStrokeWidth": 3.5, "labelFont": "Liberation Sans", "labelFontSize": 10, "labelFontWeight": "bold", "labelColor": "black", "labelOffset": 6, "labelLimit": 200, "columnPadding": 5, "padding": 17, "fillColor": "white", "strokeColor": "black", "encode": {"legend": {"update": {"strokeWidth": {"value": 2}}}}}},
 "strokeDash": {"field": "s", "type": "nominal",
  "scale": {"domain": ["Máximos","10%","50%","Mínimos","90%","2013"], "range": [[1,0],[18,8],[1,0],[1,0],[18,8],[1,0]]},
  "legend": {"title": null, "orient": "none", "legendX": 511, "legendY": 22, "direction": "horizontal", "columns": 6, "symbolType": "stroke", "symbolSize": 2401, "symbolStrokeWidth": 3.5, "labelFont": "Liberation Sans", "labelFontSize": 10, "labelFontWeight": "bold", "labelColor": "black", "labelOffset": 6, "labelLimit": 200, "columnPadding": 5, "padding": 17, "fillColor": "white", "strokeColor": "black", "encode": {"legend": {"update": {"strokeWidth": {"value": 2}}}}}},
 "detail": {"field": "g", "type": "nominal"}
},
"layer": [
 {"transform": [{"filter": "datum.s == '10%' || datum.s == '90%'"}],
  "mark": {"type": "line", "strokeWidth": 2.5, "strokeCap": "butt", "strokeJoin": "round", "clip": true}},
 {"transform": [{"filter": "datum.s != '10%' && datum.s != '90%'"}],
  "mark": {"type": "line", "strokeWidth": 5, "strokeCap": "round", "strokeJoin": "round", "clip": true}}
]
}
